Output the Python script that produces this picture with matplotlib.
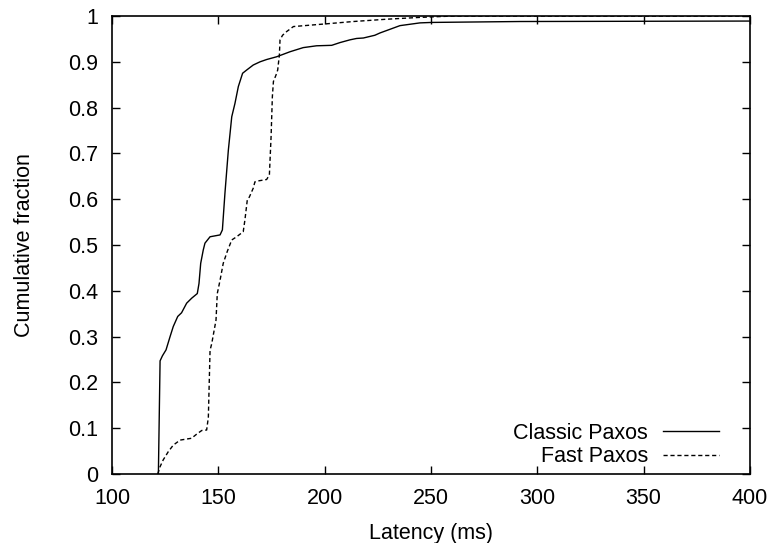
import matplotlib
matplotlib.use("Agg")
import matplotlib.pyplot as plt

# latency CDF
classic_lat = [121.8, 122.6, 123.7, 125.4, 127.3, 128.8, 130.9, 132.7, 135.1, 137.5,
               140.1, 140.9, 141.7, 142.9, 143.7, 146.1, 150.8, 151.9, 153.1, 154.7,
               156.3, 157.8, 159.4, 161.4, 163.3, 166.4, 169.6, 172.7, 177.4, 183.7,
               189.9, 196.2, 203.3, 207.2, 211.9, 215.0, 218.2, 223.6, 226.0, 230.7,
               235.4, 240.1, 244.8, 250.3, 291.8, 400.0]
classic_cdf = [0.0, 0.247, 0.258, 0.271, 0.300, 0.322, 0.344, 0.352, 0.373, 0.384,
               0.394, 0.416, 0.460, 0.489, 0.504, 0.518, 0.522, 0.533, 0.613, 0.707,
               0.780, 0.809, 0.846, 0.875, 0.882, 0.893, 0.900, 0.905, 0.911, 0.922,
               0.931, 0.935, 0.936, 0.942, 0.948, 0.951, 0.952, 0.958, 0.963, 0.971,
               0.979, 0.982, 0.985, 0.986, 0.988, 0.989]

fast_lat = [121.5, 122.6, 124.1, 126.5, 128.8, 132.0, 137.4, 139.8, 142.2, 144.5,
            145.3, 146.1, 146.9, 148.9, 149.5, 150.8, 152.3, 153.1, 154.2, 156.3,
            158.6, 161.7, 162.5, 163.6, 164.6, 166.4, 167.2, 168.8, 172.7, 174.0,
            174.8, 175.4, 175.9, 177.1, 177.9, 178.7, 179.0, 180.2, 182.1, 185.3,
            193.1, 200.9, 213.5, 229.1, 244.8, 260.5, 400.0]
fast_cdf = [0.0, 0.016, 0.031, 0.049, 0.063, 0.074, 0.078, 0.087, 0.095, 0.096,
            0.124, 0.270, 0.285, 0.336, 0.394, 0.423, 0.460, 0.471, 0.486, 0.511,
            0.518, 0.529, 0.555, 0.598, 0.605, 0.624, 0.638, 0.640, 0.643, 0.653,
            0.737, 0.824, 0.857, 0.871, 0.882, 0.915, 0.948, 0.958, 0.966, 0.977,
            0.980, 0.983, 0.988, 0.993, 0.997, 1.0, 1.0]

x_ticks = [100, 150, 200, 250, 300, 350, 400]
y_ticks = [0, 0.1, 0.2, 0.3, 0.4, 0.5, 0.6, 0.7, 0.8, 0.9, 1]
y_labels = ["0", "0.1", "0.2", "0.3", "0.4", "0.5", "0.6", "0.7", "0.8", "0.9", "1"]

plt.rcParams["font.family"] = ["Liberation Sans", "DejaVu Sans"]
fs = 15.5

fig = plt.figure(figsize=(7.72, 5.43), dpi=100)
ax = fig.add_axes([0.1451, 0.1271, 0.8264, 0.8434])

ax.plot(classic_lat, classic_cdf, color="black", linewidth=1.0, label="Classic Paxos")
ax.plot(fast_lat, fast_cdf, color="black", linewidth=1.0, linestyle=(0, (3, 2)),
        label="Fast Paxos")

ax.set_xlim(100, 400)
ax.set_ylim(0, 1)
ax.set_xticks(x_ticks)
ax.set_yticks(y_ticks)
ax.set_yticklabels(y_labels)
ax.tick_params(direction="in", length=6, width=1, top=True, right=True,
               labelsize=fs, pad=10)
for s in ax.spines.values():
    s.set_linewidth(1.2)

ax.set_xlabel("Latency (ms)", fontsize=fs, labelpad=10)
ax.set_ylabel("Cumulative fraction", fontsize=fs, labelpad=24)

ax.legend(loc="lower right", frameon=False, fontsize=fs, markerfirst=False,
          handlelength=2.6, handletextpad=0.7, labelspacing=0.12,
          bbox_to_anchor=(0.975, -0.018), borderpad=0.2)

fig.savefig("out.png", dpi=100)
